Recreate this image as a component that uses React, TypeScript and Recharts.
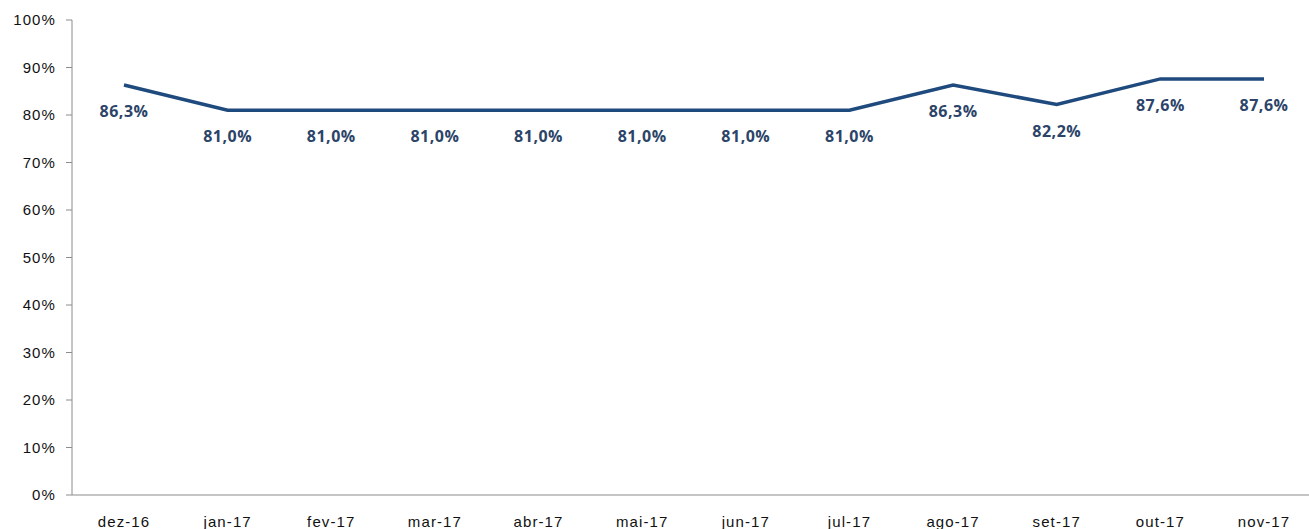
import { LineChart, Line, XAxis, YAxis, LabelList } from 'recharts';

const months = ['dez-16', 'jan-17', 'fev-17', 'mar-17', 'abr-17', 'mai-17', 'jun-17', 'jul-17', 'ago-17', 'set-17', 'out-17', 'nov-17'];
const rate = [86.3, 81.0, 81.0, 81.0, 81.0, 81.0, 81.0, 81.0, 86.3, 82.2, 87.6, 87.6];
const yTicks = [0, 10, 20, 30, 40, 50, 60, 70, 80, 90, 100];
// divisórias entre meses no eixo X (estilo Excel)
const edgeTicks = months.map((_, i) => i).concat(months.length);

const data = months.map((m, i) => ({ month: m, value: rate[i] }));

const axisFont = { fill: '#111', fontSize: 15, fontFamily: 'Liberation Sans', letterSpacing: 1.1 };

// rótulo abaixo do ponto, com vírgula decimal
const PointLabel = (props: any) => {
    const { x, y, value } = props;
    return (
        <text x={x} y={y + 32} textAnchor="middle" fill="#2B4468"
            style={{ fontFamily: 'Open Sans', fontWeight: 700, fontSize: 16, letterSpacing: 0.5 }}>
            {value.toFixed(1).replace('.', ',') + '%'}
        </text>
    );
};

export default function App() {
    return (
        <div style={{ position: 'absolute', left: 0, top: 0, width: 1309, height: 529, overflow: 'hidden', background: '#fff' }}>
            <LineChart width={1316} height={529} data={data} margin={{ top: 20, right: 0, bottom: 0, left: 0 }}>
                <XAxis
                    xAxisId="a"
                    type="number"
                    domain={[0, months.length]}
                    ticks={edgeTicks}
                    tick={false}
                    height={1}
                    axisLine={{ stroke: '#8c8c8c' }}
                    tickLine={{ stroke: '#8c8c8c' }}
                    tickSize={6}
                />
                <XAxis
                    xAxisId="b"
                    dataKey="month"
                    height={33}
                    padding={{ left: 52, right: 52 }}
                    axisLine={false}
                    tickLine={false}
                    tickMargin={14}
                    interval={0}
                    tick={axisFont}
                />
                <YAxis
                    width={72}
                    domain={[0, 100]}
                    ticks={yTicks}
                    tickFormatter={(v: number) => `${v}%`}
                    axisLine={{ stroke: '#8c8c8c' }}
                    tickLine={{ stroke: '#8c8c8c' }}
                    tickSize={6}
                    tickMargin={10}
                    tick={axisFont}
                />
                <Line
                    xAxisId="b"
                    dataKey="value"
                    stroke="#1F4A7E"
                    strokeWidth={3.5}
                    dot={false}
                    type="linear"
                    isAnimationActive={false}
                >
                    <LabelList dataKey="value" content={PointLabel} />
                </Line>
            </LineChart>
        </div>
    );
}
